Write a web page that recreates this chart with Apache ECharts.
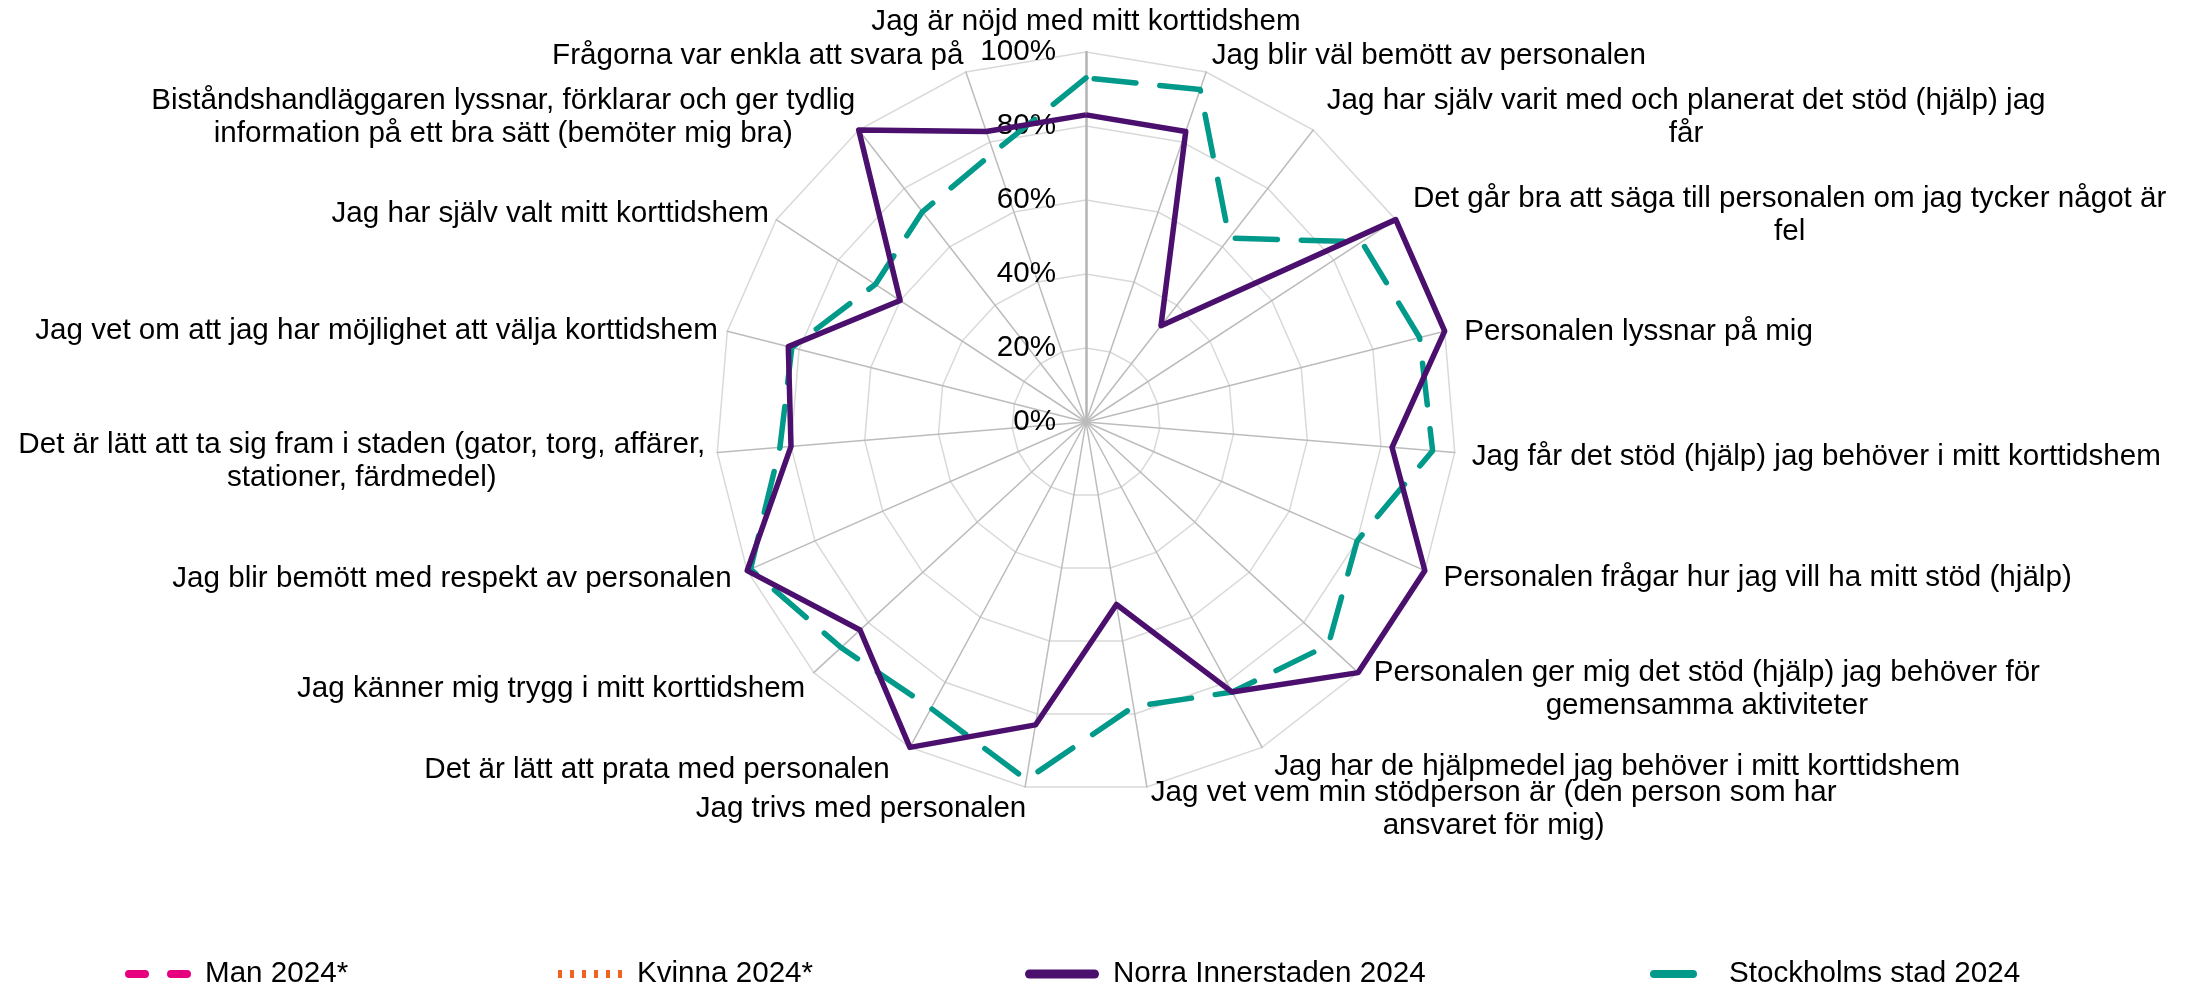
<!DOCTYPE html>
<html>
<head>
<meta charset="utf-8">
<script src="https://cdn.jsdelivr.net/npm/echarts@6/dist/echarts.min.js"></script>
<style>
  html, body { margin: 0; padding: 0; background: #fff; }
  #chart { width: 2186px; height: 991px; }
</style>
</head>
<body>
<div id="chart"></div>
<script>
// frågor, medurs från toppen
const questions = [
    'Jag är nöjd med mitt korttidshem',
    'Jag blir väl bemött av personalen',
    'Jag har själv varit med och planerat det stöd (hjälp) jag\nfår',
    'Det går bra att säga till personalen om jag tycker något är\nfel',
    'Personalen lyssnar på mig',
    'Jag får det stöd (hjälp) jag behöver i mitt korttidshem',
    'Personalen frågar hur jag vill ha mitt stöd (hjälp)',
    'Personalen ger mig det stöd (hjälp) jag behöver för\ngemensamma aktiviteter',
    'Jag har de hjälpmedel jag behöver i mitt korttidshem',
    'Jag vet vem min stödperson är (den person som har\nansvaret för mig)',
    'Jag trivs med personalen',
    'Det är lätt att prata med personalen',
    'Jag känner mig trygg i mitt korttidshem',
    'Jag blir bemött med respekt av personalen',
    'Det är lätt att ta sig fram i staden (gator, torg, affärer,\nstationer, färdmedel)',
    'Jag vet om att jag har möjlighet att välja korttidshem',
    'Jag har själv valt mitt korttidshem',
    'Biståndshandläggaren lyssnar, förklarar och ger tydlig\ninformation på ett bra sätt (bemöter mig bra)',
    'Frågorna var enkla att svara på'
];

// andel positiva svar (%)
const manValues = [];
const kvinnaValues = [];
const norraValues = [83, 83, 33, 100, 100, 83, 100, 100, 83, 50, 83, 100, 83, 100, 80, 83, 60, 100, 83];
const stockholmValues = [93, 95, 63, 89, 93, 94, 80, 89, 83, 78, 98, 88, 90, 99, 83, 82, 68, 72, 77];

const seriesNames = ['Man 2024*', 'Kvinna 2024*', 'Norra Innerstaden 2024', 'Stockholms stad 2024'];
const colors = ['#e6007e', '#f26322', '#4b0f6e', '#00998a'];

const FONT = '"Liberation Sans", Arial, sans-serif';
const FS = 29.6;

// små justeringar av axeltexterna (px) så de hamnar som i Excel
const nameDrop = [3, 0, 1, 5, 5, 3, 0, 5, 4, 6, 5, 7, 5, 1, 7, 4, 3, 1, 0];
const nameShift = [0, 0, 3, 3, 3, 0, 3, 3, 4, 1, 4, -12, 4, 0, 5, 7, 7, 7, 3];

// echarts radar går moturs, så vänd ordningen (första axeln kvar överst)
const order = [0];
for (let i = questions.length - 1; i > 0; i--) order.push(i);
function reorder(arr) {
    return arr.length ? order.map(i => arr[i]) : [];
}

const indicators = order.map((i, k) => {
    const ind = { name: questions[i], min: 0, max: 100 };
    let pad;
    if (i === 0) {
        pad = [0, 0, -nameDrop[i], 0];
    } else if (i < questions.length / 2) {
        // höger sida, vänsterjusterad text
        pad = [nameDrop[i] * 2, 0, 0, nameShift[i]];
    } else {
        // vänster sida, högerjusterad text
        pad = [nameDrop[i] * 2, -nameShift[i], 0, 0];
    }
    ind.nameTextStyle = { padding: pad };
    if (k === 0) {
        ind.axisLabel = { show: true };
        ind.axisLine = { lineStyle: { width: 2.5, color: '#b4b4b4' } };
    }
    return ind;
});

// legendsymboler
const icons = [
    'path://M4,0L20,0A4,4 0 0 1 20,8L4,8A4,4 0 0 1 4,0Z M46,0L62,0A4,4 0 0 1 62,8L46,8A4,4 0 0 1 46,0Z',
    'path://M0,0L4,0L4,8L0,8Z M12,0L16,0L16,8L12,8Z M24,0L28,0L28,8L24,8Z M36,0L40,0L40,8L36,8Z M48,0L52,0L52,8L48,8Z M60,0L64,0L64,8L60,8Z',
    'path://M4.5,0L69.5,0A4.5,4.5 0 0 1 69.5,9L4.5,9A4.5,4.5 0 0 1 4.5,0Z',
    'path://M4,0L43,0A4,4 0 0 1 43,8L4,8A4,4 0 0 1 4,0Z'
];
const legendLeft = [125, 558, 1025, 1650];
const legendW = [66, 64, 74, 47];
const legendH = [8, 8, 9, 8];
const textPad = [9, 10, 9, 27];

const chart = echarts.init(document.getElementById('chart'));

const allValues = [manValues, kvinnaValues, norraValues, stockholmValues];
const lineStyles = [
    { width: 5, type: [20, 18], cap: 'round' },
    { width: 4, type: [3, 8], cap: 'round' },
    { width: 5.5, type: 'solid' },
    { width: 5.5, type: [42, 24], cap: 'round' }
];

const option = {
    animation: false,
    radar: {
        center: [1086, 422],
        radius: 370,
        startAngle: 90,
        shape: 'polygon',
        splitNumber: 5,
        nameGap: 17,
        indicator: indicators,
        axisName: {
            color: '#000',
            fontSize: FS,
            fontFamily: FONT,
            formatter: name => name.split('\n').map(l => '{c|' + l + '}').join('\n'),
            rich: {
                c: { align: 'center', color: '#000', fontSize: FS, fontFamily: FONT, lineHeight: 33 }
            }
        },
        axisLine: { lineStyle: { color: '#bcbcbc', width: 1.5 } },
        splitLine: { lineStyle: { color: '#d9d9d9', width: 1.5 } },
        splitArea: { show: false },
        axisTick: { show: false },
        axisLabel: {
            show: false,
            formatter: '{value}%',
            color: '#000',
            fontSize: FS,
            fontFamily: FONT,
            margin: 30
        }
    },
    legend: seriesNames.map((n, i) => ({
        data: [{ name: n, icon: icons[i], itemStyle: { color: colors[i], borderWidth: 0 } }],
        left: legendLeft[i],
        top: 959,
        padding: 0,
        itemWidth: legendW[i],
        itemHeight: legendH[i],
        selectedMode: false,
        itemStyle: { color: colors[i], borderWidth: 0 },
        textStyle: { color: '#000', fontSize: FS, fontFamily: FONT, padding: [0, 0, 0, textPad[i]] }
    })),
    series: seriesNames.map((n, i) => ({
        type: 'radar',
        name: n,
        symbol: 'none',
        silent: true,
        color: colors[i],
        itemStyle: { color: colors[i] },
        z: 10 - i,
        data: [{
            name: n,
            value: reorder(allValues[i]),
            lineStyle: Object.assign({ color: colors[i] }, lineStyles[i]),
            itemStyle: { color: colors[i] }
        }]
    }))
};

chart.setOption(option);
</script>
</body>
</html>
